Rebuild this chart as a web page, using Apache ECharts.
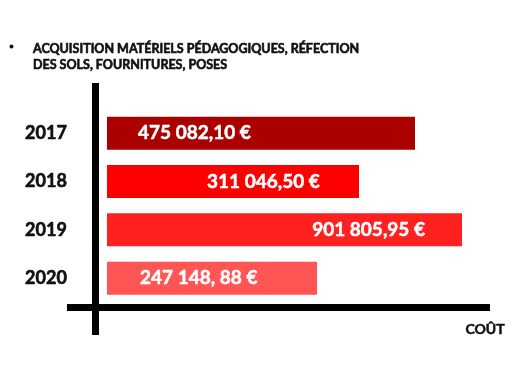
<!DOCTYPE html>
<html><head><meta charset="utf-8">
<script src="https://cdn.jsdelivr.net/npm/echarts@6/dist/echarts.min.js"></script>
<style>html,body{margin:0;padding:0;background:#fff}#c{width:525px;height:365px}</style>
</head><body><div id="c"></div>
<script>
const titleLines = ["ACQUISITION MATÉRIELS PÉDAGOGIQUES, RÉFECTION", "DES SOLS, FOURNITURES, POSES"];
const years = ["2017", "2018", "2019", "2020"];
const barLengths = [308, 252, 355, 210];
const costLabels = ["475 082,10 €", "311 046,50 €", "901 805,95 €", "247 148, 88 €"];
const axisName = "COÛT";

const barColors = ["#aa0000", "#ff0000", "#ff2020", "#ff5555"];
const labelPlacement = [
  {position: "insideLeft", distance: 31},
  {position: "insideLeft", distance: 100},
  {position: "insideRight", distance: 37},
  {position: "insideLeft", distance: 33}
];

const chart = echarts.init(document.getElementById('c'), null, {renderer: 'canvas'});
const F = "Lato, 'Open Sans', sans-serif";
chart.setOption({
  animation: false,
  title: {
    text: titleLines.join("\n"), left: 28, top: 36,
    textStyle: {fontFamily: F, fontSize: 12.5, fontWeight: "bold", color: "#111", lineHeight: 16,
      textBorderColor: "#111", textBorderWidth: 0.6}
  },
  grid: {left: 107, right: 18, top: 109, bottom: 62.7},
  xAxis: {type: "value", min: 0, max: 400, show: false},
  yAxis: {
    type: "category", data: years, inverse: true,
    axisLine: {show: false}, axisTick: {show: false},
    axisLabel: {margin: 61, align: "center", fontFamily: F, fontSize: 18, fontWeight: "bold", color: "#111",
      textBorderColor: "#111", textBorderWidth: 0.6}
  },
  series: [{
    type: "bar", barWidth: 33,
    data: barLengths.map((v, i) => ({
      value: v,
      itemStyle: {color: barColors[i]},
      label: {show: true, position: labelPlacement[i].position, distance: labelPlacement[i].distance,
        formatter: costLabels[i], color: "#fff", fontFamily: F, fontSize: 19, fontWeight: "bold",
        textBorderColor: "#fff", textBorderWidth: 0.5}
    }))
  }],
  graphic: [
    {type: "line", shape: {x1: 95.5, y1: 83, x2: 95.5, y2: 335}, style: {stroke: "#000", lineWidth: 7}},
    {type: "line", shape: {x1: 67, y1: 307.5, x2: 490, y2: 307.5}, style: {stroke: "#000", lineWidth: 7}},
    {type: "circle", shape: {cx: 11.5, cy: 46.5, r: 2}, style: {fill: "#111"}},
    {type: "text", x: 485, y: 329, style: {text: axisName, fill: "#111", font: "bold 14px " + F, textAlign: "center", textVerticalAlign: "middle",
      stroke: "#111", lineWidth: 0.5}}
  ]
});
</script></body></html>
